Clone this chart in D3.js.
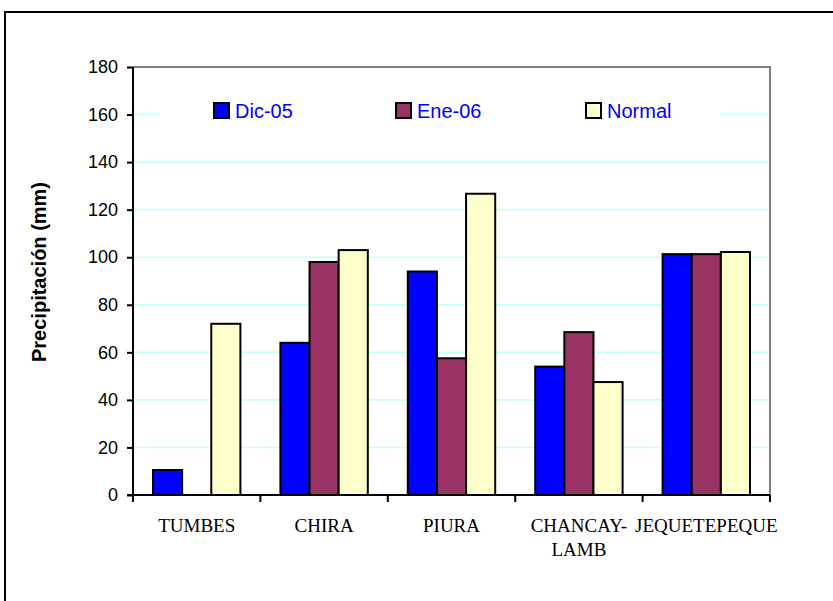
<!DOCTYPE html>
<html><head><meta charset="utf-8">
<script src="https://cdn.jsdelivr.net/npm/d3@7"></script>
<style>body{margin:0;background:#fff}svg{display:block}</style>
</head><body>
<svg id="c" width="833" height="601"></svg>
<script>
const categories = [["TUMBES"],["CHIRA"],["PIURA"],["CHANCAY-","LAMB"],["JEQUETEPEQUE"]];
const seriesNames = ["Dic-05","Ene-06","Normal"];
const dic05  = [10.5, 64, 94, 54, 101.3];
const ene06  = [0, 98, 57.5, 68.5, 101.3];
const normal = [72, 103, 126.7, 47.5, 102.2];
const colors = ["#0000FF","#993366","#FFFFCC"];
const yTicks = [0,20,40,60,80,100,120,140,160,180];

const svg = d3.select("#c");
const L=133,R=770,T=67,B=495;
const catKeys = categories.map(c=>c.join(" "));
const x = d3.scaleBand().domain(catKeys).range([L,R]);
const y = d3.scaleLinear().domain([0,180]).range([B,T]);
const gap = 40;
const x1 = d3.scaleBand().domain(seriesNames).range([gap/2, x.bandwidth()-gap/2]);
const seriesVals = [dic05, ene06, normal];

// outer border
svg.append("rect").attr("x",5).attr("y",12).attr("width",900).attr("height",700)
  .attr("fill","none").attr("stroke","#000").attr("stroke-width",2);

// gridlines
svg.append("g").selectAll("line").data(yTicks.filter(v=>v>0&&v<180)).join("line")
  .attr("x1",L).attr("x2",R).attr("y1",d=>y(d)).attr("y2",d=>y(d))
  .attr("stroke","#c4ffff").attr("stroke-width",1.6);

// plot border top/right
svg.append("path").attr("d",`M${L},${T}H${R}V${B}`).attr("fill","none").attr("stroke","#808080").attr("stroke-width",2);

// legend background
svg.append("rect").attr("x",160).attr("y",97).attr("width",560).attr("height",28).attr("fill","#fff");

// bars
seriesNames.forEach((s,si)=>{
  svg.append("g").selectAll("rect").data(catKeys.map((k,i)=>({k,v:seriesVals[si][i]})).filter(d=>d.v>0)).join("rect")
    .attr("x",d=>x(d.k)+x1(s)).attr("width",x1.bandwidth())
    .attr("y",d=>y(d.v)).attr("height",d=>y(0)-y(d.v))
    .attr("fill",colors[si]).attr("stroke","#000").attr("stroke-width",2);
});

// y axis
const ya = svg.append("g").attr("transform",`translate(${L},0)`)
  .call(d3.axisLeft(y).tickValues(yTicks).tickSize(6).tickPadding(9));
ya.select(".domain").attr("stroke","#000").attr("stroke-width",2).attr("d",`M0,${T}V${B}`);
ya.selectAll(".tick line").attr("stroke","#000").attr("stroke-width",2);
ya.selectAll(".tick text").attr("font-family","Liberation Sans, Arial, sans-serif").attr("font-size",18).attr("fill","#000");

// x axis
svg.append("line").attr("x1",L-6).attr("x2",R).attr("y1",B).attr("y2",B).attr("stroke","#000").attr("stroke-width",2);
const bounds = catKeys.map(k=>x(k)).concat([R]);
svg.append("g").selectAll("line").data(bounds).join("line")
  .attr("x1",d=>d).attr("x2",d=>d).attr("y1",B).attr("y2",B+7).attr("stroke","#000").attr("stroke-width",2);
const xl = svg.append("g").selectAll("text").data(categories).join("text")
  .attr("font-family","Liberation Serif, Times New Roman, serif").attr("font-size",19).attr("fill","#000")
  .attr("text-anchor","middle")
  .attr("transform",(d,i)=>`translate(${x(catKeys[i])+x.bandwidth()/2},532)`);
xl.selectAll("tspan").data(d=>d).join("tspan").attr("x",0).attr("dy",(d,i)=>i?24:0).text(d=>d);

// y label
svg.append("text").attr("transform","translate(46,272) rotate(-90)").attr("text-anchor","middle")
  .attr("font-family","Liberation Sans, Arial, sans-serif").attr("font-weight","bold").attr("font-size",20)
  .text("Precipitación (mm)");

// legend
const legX = [214, 396, 586];
const lg = svg.append("g").selectAll("g").data(seriesNames).join("g")
  .attr("transform",(d,i)=>`translate(${legX[i]},103)`);
lg.append("rect").attr("width",15).attr("height",15).attr("fill",(d,i)=>colors[i]).attr("stroke","#000").attr("stroke-width",2);
lg.append("text").attr("x",21).attr("y",15).attr("font-family","Liberation Sans, Arial, sans-serif")
  .attr("font-size",20).attr("fill","#0000FF").text(d=>d);
</script>
</body></html>
